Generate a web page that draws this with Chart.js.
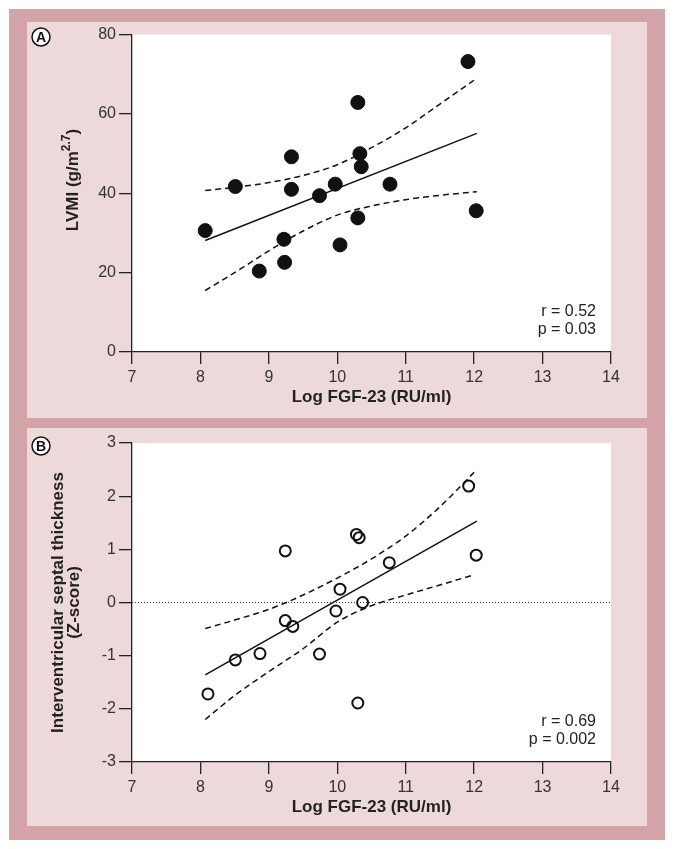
<!DOCTYPE html>
<html>
<head>
<meta charset="utf-8">
<script src="https://cdn.jsdelivr.net/npm/chart.js@4.4.1/dist/chart.umd.min.js"></script>
<style>
  body { margin: 0; background: #fff; width: 674px; height: 849px; overflow: hidden; }
  #frame { position: absolute; left: 9px; top: 9px; width: 656px; height: 831px; background: #d4a3a7; }
  .panel { position: absolute; left: 18px; width: 620px; background: #eed9da; }
  #panelA { top: 13px; height: 396px; }
  #panelB { top: 419px; height: 398px; }
  canvas { display: block; }
</style>
</head>
<body>
<div id="frame">
  <div class="panel" id="panelA"><canvas id="chartA" width="620" height="396"></canvas></div>
  <div class="panel" id="panelB"><canvas id="chartB" width="620" height="398"></canvas></div>
</div>
<script>
// --- data ---
const xTicks  = [7, 8, 9, 10, 11, 12, 13, 14];
const yTicksA = [0, 20, 40, 60, 80];
const yTicksB = [-3, -2, -1, 0, 1, 2, 3];

// A: LVMI vs log FGF-23
const fgfA  = [8.07, 8.51, 8.86, 9.22, 9.23, 9.33, 9.33, 9.74, 9.97, 10.04, 10.30, 10.33, 10.35, 10.30, 10.77, 11.91, 12.03];
const lvmiA = [30.6, 41.7, 20.4, 28.4, 22.6, 49.2, 41.0, 39.4, 42.3, 27.0, 62.9, 50.0, 46.7, 33.8, 42.3, 73.2, 35.6];
const fitXA = [8.07, 12.04];
const fitYA = [28.1, 55.1];
const ciXA    = [8.07, 8.5, 9, 9.5, 10, 10.5, 11, 11.5, 12.04];
const ciUpA   = [40.7, 41.5, 42.7, 44.5, 47.2, 51.5, 56.5, 62.5, 69.0];
const ciLowA  = [15.5, 20.0, 25.5, 30.5, 34.5, 36.8, 38.4, 39.5, 40.4];

// B: septal thickness Z-score vs log FGF-23
const fgfB = [8.11, 8.51, 8.87, 9.24, 9.24, 9.35, 9.74, 9.98, 10.04, 10.28, 10.32, 10.37, 10.30, 10.76, 11.92, 12.03];
const zB   = [-1.72, -1.08, -0.96, 0.97, -0.34, -0.45, -0.97, -0.16, 0.25, 1.28, 1.22, 0.0, -1.89, 0.75, 2.19, 0.89];
const fitXB = [8.07, 12.04];
const fitYB = [-1.36, 1.53];
const ciXB   = [8.07, 8.5, 9, 9.5, 10, 10.5, 11, 11.5, 12.0];
const ciUpB  = [-0.49, -0.33, -0.13, 0.14, 0.46, 0.82, 1.25, 1.8, 2.45];
const ciLowB = [-2.2, -1.75, -1.3, -0.87, -0.37, -0.06, 0.14, 0.33, 0.52];
const zeroX = [7, 14];
const zeroY = [0, 0];

const FONT = "'Liberation Sans Narrow', 'Liberation Sans', Arial, sans-serif";
const INK = '#222';

const pts = (xs, ys) => xs.map((x, i) => ({ x, y: ys[i] }));

const whiteArea = {
  id: 'whiteArea',
  beforeDraw(chart) {
    const { ctx, chartArea: a } = chart;
    ctx.save();
    ctx.fillStyle = '#fff';
    ctx.fillRect(a.left, a.top, a.right - a.left, a.bottom - a.top);
    ctx.restore();
  },
};

// panel letter, stats text, and (for A) the superscripted y title
const extras = {
  id: 'extras',
  afterDraw(chart, args, opts) {
    const { ctx, chartArea: a } = chart;
    ctx.save();
    // circled letter
    ctx.beginPath();
    ctx.arc(opts.letterX, opts.letterY, 9, 0, Math.PI * 2);
    ctx.fillStyle = '#fff';
    ctx.fill();
    ctx.lineWidth = 1.5;
    ctx.strokeStyle = '#111';
    ctx.stroke();
    ctx.fillStyle = '#111';
    ctx.font = `bold 14px ${FONT}`;
    ctx.textAlign = 'center';
    ctx.textBaseline = 'middle';
    ctx.fillText(opts.letter, opts.letterX, opts.letterY + 1);

    // r / p
    ctx.font = `16px ${FONT}`;
    ctx.textAlign = 'right';
    ctx.fillStyle = INK;
    ctx.fillText(opts.stats[0], a.right - 15, a.bottom - 40);
    ctx.fillText(opts.stats[1], a.right - 15, a.bottom - 22);

    if (opts.yTitle) {
      const [main, sup, tail] = opts.yTitle;
      ctx.translate(46, 158);
      ctx.rotate(-Math.PI / 2);
      ctx.textAlign = 'left';
      ctx.textBaseline = 'middle';
      const big = `bold 17px ${FONT}`, small = `bold 12px ${FONT}`;
      ctx.font = big;  const w1 = ctx.measureText(main).width, w3 = ctx.measureText(tail).width;
      ctx.font = small; const w2 = ctx.measureText(sup).width;
      let x = -(w1 + w2 + w3) / 2;
      ctx.font = big;   ctx.fillText(main, x, 0); x += w1;
      ctx.font = small; ctx.fillText(sup, x, -6); x += w2;
      ctx.font = big;   ctx.fillText(tail, x, 0);
    }
    ctx.restore();
  },
};

function makeChart(id, cfg) {
  const datasets = [
    {
      type: 'scatter',
      data: pts(cfg.xs, cfg.ys),
      pointRadius: cfg.filled ? 7 : 5.5,
      pointBackgroundColor: cfg.filled ? '#111' : 'rgba(0,0,0,0)',
      pointBorderColor: '#111',
      pointBorderWidth: cfg.filled ? 1 : 2,
    },
    {
      type: 'line',
      data: pts(cfg.fitX, cfg.fitY),
      borderColor: '#111', borderWidth: 1.5, pointRadius: 0,
    },
    {
      type: 'line',
      data: pts(cfg.ciX, cfg.ciUp),
      borderColor: '#111', borderWidth: 1.5, borderDash: [6, 4], pointRadius: 0,
      cubicInterpolationMode: 'monotone',
    },
    {
      type: 'line',
      data: pts(cfg.ciX, cfg.ciLow),
      borderColor: '#111', borderWidth: 1.5, borderDash: [6, 4], pointRadius: 0,
      cubicInterpolationMode: 'monotone',
    },
  ];
  if (cfg.zero) {
    datasets.push({
      type: 'line',
      data: pts(zeroX, zeroY),
      borderColor: '#333', borderWidth: 1, borderDash: [1, 2], pointRadius: 0,
    });
  }

  return new Chart(document.getElementById(id), {
    type: 'scatter',
    data: { datasets },
    plugins: [whiteArea, extras],
    options: {
      responsive: false,
      animation: false,
      devicePixelRatio: 1,
      layout: { padding: cfg.padding },
      scales: {
        x: {
          type: 'linear',
          min: 7, max: 14,
          afterBuildTicks: s => { s.ticks = xTicks.map(v => ({ value: v })); },
          afterFit: s => { s.height = 56; },
          border: { display: true, color: INK, width: 1.3 },
          grid: { drawOnChartArea: false, drawTicks: true, tickLength: 12, color: INK, lineWidth: 1.3 },
          ticks: { color: '#333', padding: 4, font: { family: FONT, size: 16 } },
          title: {
            display: true, text: 'Log FGF-23 (RU/ml)', color: INK,
            padding: { top: 0, bottom: 0 },
            font: { family: FONT, size: 17, weight: 'bold' },
          },
        },
        y: {
          type: 'linear',
          min: cfg.yTicks[0], max: cfg.yTicks[cfg.yTicks.length - 1],
          afterBuildTicks: s => { s.ticks = cfg.yTicks.map(v => ({ value: v })); },
          afterFit: s => { s.width = 105 - cfg.padding.left; },
          border: { display: true, color: INK, width: 1.3 },
          grid: { drawOnChartArea: false, drawTicks: true, tickLength: 13, color: INK, lineWidth: 1.3 },
          ticks: { color: '#333', padding: 3, font: { family: FONT, size: 16 } },
          title: cfg.yTitle
            ? {
                display: true, text: cfg.yTitle, color: INK,
                padding: { top: 0, bottom: 0 },
                font: { family: FONT, size: 17, weight: 'bold', lineHeight: 0.95 },
              }
            : { display: false },
        },
      },
      plugins: {
        legend: { display: false },
        tooltip: { enabled: false },
        extras: cfg.extras,
      },
    },
  });
}

makeChart('chartA', {
  xs: fgfA, ys: lvmiA, filled: true,
  fitX: fitXA, fitY: fitYA, ciX: ciXA, ciUp: ciUpA, ciLow: ciLowA,
  yTicks: yTicksA,
  padding: { left: 20, right: 36, top: 11, bottom: 10 },
  extras: { letter: 'A', letterX: 14, letterY: 15, stats: ['r = 0.52', 'p = 0.03'], yTitle: ['LVMI (g/m', '2.7', ')'] },
});

makeChart('chartB', {
  xs: fgfB, ys: zB, filled: false, zero: true,
  fitX: fitXB, fitY: fitYB, ciX: ciXB, ciUp: ciUpB, ciLow: ciLowB,
  yTicks: yTicksB,
  yTitle: ['Interventricular septal thickness', '(Z-score)'],
  padding: { left: 23, right: 36, top: 15, bottom: 8 },
  extras: { letter: 'B', letterX: 14, letterY: 18, stats: ['r = 0.69', 'p = 0.002'] },
});
</script>
</body>
</html>
